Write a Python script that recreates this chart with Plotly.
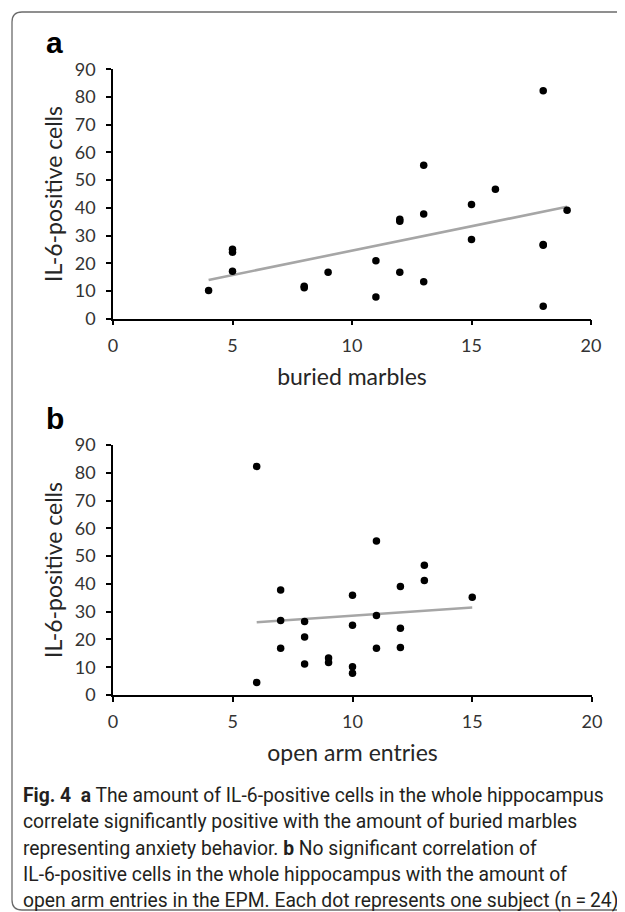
import plotly.graph_objects as go

# ---- data ----
il6_cells = [82.3, 55.4, 46.7, 41.2, 39.1, 37.8, 35.9, 35.2, 28.6, 26.8, 26.5, 25.1,
             24.0, 20.9, 17.1, 16.8, 16.8, 13.3, 11.7, 11.2, 10.2, 7.8, 4.5]
buried_marbles = [18, 13, 16, 15, 19, 13, 12, 12, 15, 18, 18, 5,
                  5, 11, 5, 9, 12, 13, 8, 8, 4, 11, 18]
open_arm_entries = [6, 11, 13, 13, 12, 7, 10, 15, 11, 7, 8, 10,
                    12, 8, 12, 7, 11, 9, 9, 8, 10, 10, 6]
trend_a_x = [4, 19]
trend_a_y = [14.0, 40.4]
trend_b_x = [6, 15]
trend_b_y = [26.2, 31.5]
x_ticks = [0, 5, 10, 15, 20]
y_ticks = [0, 10, 20, 30, 40, 50, 60, 70, 80, 90]

OFF = 8  # page body margin
W, H = 625 - OFF, 912 - OFF


def px(x):
    return (x - OFF) / W


def py(y):
    return 1 - (y - OFF) / H


fig = go.Figure()

for xs, tx, ty, xa, ya in [
    (buried_marbles, trend_a_x, trend_a_y, "x", "y"),
    (open_arm_entries, trend_b_x, trend_b_y, "x2", "y2"),
]:
    fig.add_trace(go.Scatter(x=tx, y=ty, mode="lines", xaxis=xa, yaxis=ya,
                             line=dict(color="#a6a6a6", width=2.6), hoverinfo="skip"))
    fig.add_trace(go.Scatter(x=xs, y=il6_cells, mode="markers", xaxis=xa, yaxis=ya,
                             cliponaxis=False,
                             marker=dict(color="black", size=7.5)))

tick_font = dict(family="Lato, Open Sans, sans-serif", size=18, color="#333333")
title_font = dict(family="Lato, Open Sans, sans-serif", size=23, color="#262626")

common_x = dict(range=[0, 20], tickvals=x_ticks, showline=True, linecolor="black",
                linewidth=1.5, ticks="outside", ticklen=5, tickwidth=1.5, tickcolor="black",
                showgrid=False, zeroline=False, tickfont=tick_font, fixedrange=True,
                ticklabelstandoff=5, automargin=False)
common_y = dict(range=[0, 90], tickvals=y_ticks, showline=True, linecolor="black",
                linewidth=1.5, ticks="outside", ticklen=5, tickwidth=1.5, tickcolor="black",
                showgrid=False, zeroline=False, tickfont=tick_font, fixedrange=True,
                ticklabelstandoff=7, automargin=False)

fig.update_layout(
    width=W, height=H,
    margin=dict(l=0, r=0, t=0, b=0),
    paper_bgcolor="white", plot_bgcolor="white",
    showlegend=False,
    xaxis=dict(common_x, domain=[px(113), px(591)], anchor="y",
               title=dict(text="buried marbles", font=title_font, standoff=14)),
    yaxis=dict(common_y, domain=[py(318.7), py(69.3)], anchor="x",
               title=dict(text="IL-6-positive cells", font=title_font, standoff=6)),
    xaxis2=dict(common_x, domain=[px(113), px(592)], anchor="y2",
                title=dict(text="open arm entries", font=title_font, standoff=14)),
    yaxis2=dict(common_y, domain=[py(695), py(445)], anchor="x2",
                title=dict(text="IL-6-positive cells", font=title_font, standoff=6)),
)

# frame with rounded left corners
r = 10
path = (f"M {px(650)},{py(12)} L {px(12 + r)},{py(12)} "
        f"Q {px(12)},{py(12)} {px(12)},{py(12 + r)} "
        f"L {px(12)},{py(910 - r)} Q {px(12)},{py(910)} {px(12 + r)},{py(910)} "
        f"L {px(650)},{py(910)}")
fig.add_shape(type="path", path=path, xref="paper", yref="paper",
              line=dict(color="#6b6b6b", width=1.3))

# panel labels
for lab, y in [("a", 42), ("b", 418)]:
    fig.add_annotation(text=f"<b>{lab}</b>", x=px(44), y=py(y), xref="paper", yref="paper",
                       xanchor="left", yanchor="middle", showarrow=False,
                       font=dict(family="Liberation Sans, Arial, sans-serif", size=30, color="black"))

caption_lines = [
    "<b>Fig. 4</b>  <b>a</b> The amount of IL-6-positive cells in the whole hippocampus",
    "correlate significantly positive with the amount of buried marbles",
    "representing anxiety behavior. <b>b</b> No significant correlation of",
    "IL-6-positive cells in the whole hippocampus with the amount of",
    "open arm entries in the EPM. Each dot represents one subject (n\u2009=\u200924)",
]
cap_y = [795, 821, 848, 874, 900]
for t, y in zip(caption_lines, cap_y):
    fig.add_annotation(text=t, x=px(21), y=py(y), xref="paper", yref="paper",
                       xanchor="left", yanchor="middle", showarrow=False,
                       font=dict(family="Roboto, sans-serif", size=19.3, color="#231f20"))

fig.write_html("out.html")
